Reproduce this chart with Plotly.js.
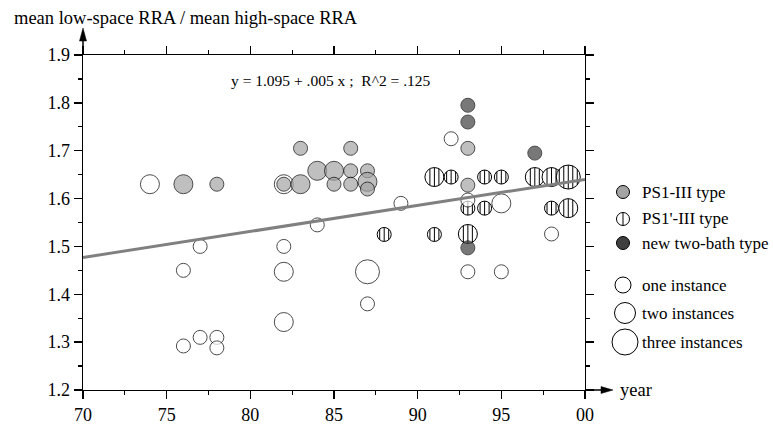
<!DOCTYPE html>
<html><head><meta charset="utf-8">
<script src="https://cdn.plot.ly/plotly-3.0.1.min.js"></script>
<style>
html,body{margin:0;padding:0;background:#fff}
#chart{width:773px;height:424px}
</style>
</head><body><div id="chart"></div>
<script>
// ---- data ----
// PS1-III type (gray filled)
const ps1Year  = [76, 78, 82, 83, 83, 84, 85, 85, 86, 86, 86, 87, 87, 87, 93, 93];
const ps1Ratio = [1.63, 1.63, 1.63, 1.63, 1.705, 1.658, 1.658, 1.63, 1.705, 1.658, 1.63, 1.658, 1.635, 1.62, 1.705, 1.628];
const ps1Count = [2, 1, 1, 2, 1, 2, 2, 1, 1, 1, 1, 1, 2, 1, 1, 1];
// PS1'-III type (vertically striped)
const ps1pYear  = [88, 91, 91, 92, 94, 95, 97, 98, 99, 93, 94, 98, 99, 93];
const ps1pRatio = [1.525, 1.525, 1.645, 1.645, 1.645, 1.645, 1.645, 1.645, 1.645, 1.58, 1.58, 1.58, 1.58, 1.526];
const ps1pCount = [1, 1, 2, 1, 1, 1, 2, 2, 3, 1, 1, 1, 2, 2];
// new two-bath type (dark filled)
const newYear  = [93, 93, 93, 97];
const newRatio = [1.795, 1.76, 1.497, 1.695];
const newCount = [1, 1, 1, 1];
// other cases (open circles)
const openYear  = [74, 76, 77, 76, 77, 78, 78, 82, 82, 82, 82, 84, 87, 87, 89, 92, 93, 93, 95, 95, 98];
const openRatio = [1.63, 1.45, 1.50, 1.292, 1.31, 1.31, 1.288, 1.63, 1.50, 1.447, 1.342, 1.545, 1.447, 1.38, 1.59, 1.725, 1.597, 1.447, 1.59, 1.447, 1.526];
const openCount = [2, 1, 1, 1, 1, 1, 1, 2, 1, 2, 2, 1, 3, 1, 1, 1, 1, 1, 2, 1, 1];
// regression line
const fitYear  = [70, 100];
const fitRatio = [1.477, 1.640];
// ticks and texts
const xTickVals = [70, 75, 80, 85, 90, 95, 100];
const xTickText = ['70', '75', '80', '85', '90', '95', '00'];
const yTickVals = [1.2, 1.3, 1.4, 1.5, 1.6, 1.7, 1.8, 1.9];
const legendTypes = ['PS1-III type', "PS1'-III type", 'new two-bath type'];
const legendInstances = ['one instance', 'two instances', 'three instances'];
const legendInstanceCounts = [1, 2, 3];
const yTitle = 'mean low-space RRA / mean high-space RRA';
const xTitle = 'year';
const equationText = 'y = 1.095 + .005 x ;  R^2 = .125';

// ---- styling ----
const FONT = 'Liberation Serif';
const GRAY = '#a4a4a4', DARK = '#404040';
const sizeOf = c => ({1: 14, 2: 19, 3: 24}[c]);
const W = 773, H = 424, L = 83, R = 585, T = 55, B = 390;
const pX = p => (p - L) / (R - L);
const pY = p => (B - p) / (B - T);

function markerTrace(xs, ys, cs, fill) {
  return {
    type: 'scatter', mode: 'markers', x: xs, y: ys, showlegend: false, hoverinfo: 'skip',
    marker: {symbol: 'circle', size: cs.map(sizeOf), color: fill, line: {color: '#000', width: 1}}
  };
}

const traces = [
  markerTrace(openYear, openRatio, openCount, '#ffffff'),
  markerTrace(ps1Year, ps1Ratio, ps1Count, GRAY),
  markerTrace(newYear, newRatio, newCount, DARK),
  {type: 'scatter', mode: 'lines', x: fitYear, y: fitRatio, showlegend: false, hoverinfo: 'skip',
   line: {color: '#808080', width: 3}}
];

function stripePath(r, step) {
  let d = '';
  for (let k = -3; k <= 3; k++) {
    const o = k * step;
    if (Math.abs(o) < r - 1.2) {
      const h = Math.sqrt(r * r - o * o);
      d += `M${o},${-h}L${o},${h}`;
    }
  }
  return d;
}

const shapes = [];
// striped circles (drawn below the traces)
ps1pYear.forEach((yr, i) => {
  const r = sizeOf(ps1pCount[i]) / 2;
  const base = {xref: 'x', yref: 'y', xsizemode: 'pixel', ysizemode: 'pixel',
                xanchor: yr, yanchor: ps1pRatio[i], layer: 'below'};
  shapes.push(Object.assign({type: 'circle', x0: -r, x1: r, y0: -r, y1: r,
                             fillcolor: '#fff', line: {color: '#000', width: 1}}, base));
  shapes.push(Object.assign({type: 'path', path: stripePath(r, 4.5),
                             line: {color: '#000', width: 1}}, base));
});

// axis arrows
const pxShape = (ax, ay, extra) => Object.assign({xref: 'paper', yref: 'paper',
  xsizemode: 'pixel', ysizemode: 'pixel', xanchor: ax, yanchor: ay, layer: 'above'}, extra);
shapes.push(pxShape(0, 1, {type: 'line', x0: 0, x1: 0, y0: 0, y1: 16, line: {color: '#000', width: 1.5}}));
shapes.push(pxShape(0, 1, {type: 'path', path: 'M-3.5,14L0,27L3.5,14Z', fillcolor: '#000', line: {color: '#000', width: 0.5}}));
shapes.push(pxShape(1, 0, {type: 'line', x0: 0, x1: 18, y0: 0, y1: 0, line: {color: '#000', width: 1.5}}));
shapes.push(pxShape(1, 0, {type: 'path', path: 'M16,-3.5L28,0L16,3.5Z', fillcolor: '#000', line: {color: '#000', width: 0.5}}));

// custom legend
const annotations = [];
const typeRowsY = [192, 219, 243];
const instRowsY = [285, 313, 342];
const legSymX = 623, legTextX = 640;
const legendFills = [GRAY, '#fff', DARK];
legendTypes.forEach((t, i) => {
  const r = 6.5;
  shapes.push(pxShape(pX(legSymX), pY(typeRowsY[i]), {type: 'circle', x0: -r, x1: r, y0: -r, y1: r,
    fillcolor: legendFills[i], line: {color: '#000', width: 1}}));
  if (i === 1) {
    shapes.push(pxShape(pX(legSymX), pY(typeRowsY[i]), {type: 'path', path: `M0,${-r}L0,${r}`,
      line: {color: '#000', width: 1}}));
  }
  annotations.push({xref: 'paper', yref: 'paper', x: pX(legTextX), y: pY(typeRowsY[i]),
    xanchor: 'left', yanchor: 'middle', text: t, showarrow: false,
    font: {family: FONT, size: 17, color: '#000'}});
});
legendInstances.forEach((t, i) => {
  const r = (sizeOf(legendInstanceCounts[i]) + 1) / 2 + 0.5;
  const cx = legSymX + (i === 0 ? 0 : 2);
  shapes.push(pxShape(pX(cx), pY(instRowsY[i]), {type: 'circle', x0: -r, x1: r, y0: -r, y1: r,
    fillcolor: '#fff', line: {color: '#000', width: 1}}));
  annotations.push({xref: 'paper', yref: 'paper', x: pX(legTextX), y: pY(instRowsY[i]),
    xanchor: 'left', yanchor: 'middle', text: t, showarrow: false,
    font: {family: FONT, size: 17, color: '#000'}});
});

// titles and equation
annotations.push({xref: 'paper', yref: 'paper', x: pX(12), y: pY(18), xanchor: 'left', yanchor: 'middle',
  text: yTitle, showarrow: false, font: {family: FONT, size: 18.5, color: '#000'}});
annotations.push({xref: 'paper', yref: 'paper', x: pX(618), y: pY(390), xanchor: 'left', yanchor: 'middle',
  text: xTitle, showarrow: false, font: {family: FONT, size: 18.5, color: '#000'}});
annotations.push({xref: 'paper', yref: 'paper', x: pX(229), y: pY(80), xanchor: 'left', yanchor: 'middle',
  text: equationText, showarrow: false, font: {family: FONT, size: 15.5, color: '#000'}});

const axisCommon = {
  showline: true, linecolor: '#000', linewidth: 1.3, mirror: 'allticks',
  ticks: 'outside', ticklen: 8, tickwidth: 1.3, tickcolor: '#000',
  showgrid: false, zeroline: false, fixedrange: true,
  tickfont: {family: FONT, size: 18, color: '#000'}
};

const layout = {
  width: W, height: H,
  margin: {l: L, r: W - R, t: T, b: H - B, pad: 0},
  paper_bgcolor: '#fff', plot_bgcolor: '#fff',
  showlegend: false,
  font: {family: FONT, color: '#000'},
  xaxis: Object.assign({}, axisCommon, {
    range: [70, 100], tickmode: 'array', tickvals: xTickVals, ticktext: xTickText,
    minor: {tickmode: 'linear', tick0: 70, dtick: 2.5, ticks: 'outside', ticklen: 4, tickwidth: 1.2, tickcolor: '#000', showgrid: false}
  }),
  yaxis: Object.assign({}, axisCommon, {
    range: [1.2, 1.9], tickmode: 'array', tickvals: yTickVals, ticktext: yTickVals.map(v => v.toFixed(1)),
    minor: {tickmode: 'linear', tick0: 1.2, dtick: 0.05, ticks: 'outside', ticklen: 4, tickwidth: 1.2, tickcolor: '#000', showgrid: false}
  }),
  shapes: shapes,
  annotations: annotations
};

Plotly.newPlot('chart', traces, layout, {staticPlot: true, displayModeBar: false});
</script>
</body></html>
